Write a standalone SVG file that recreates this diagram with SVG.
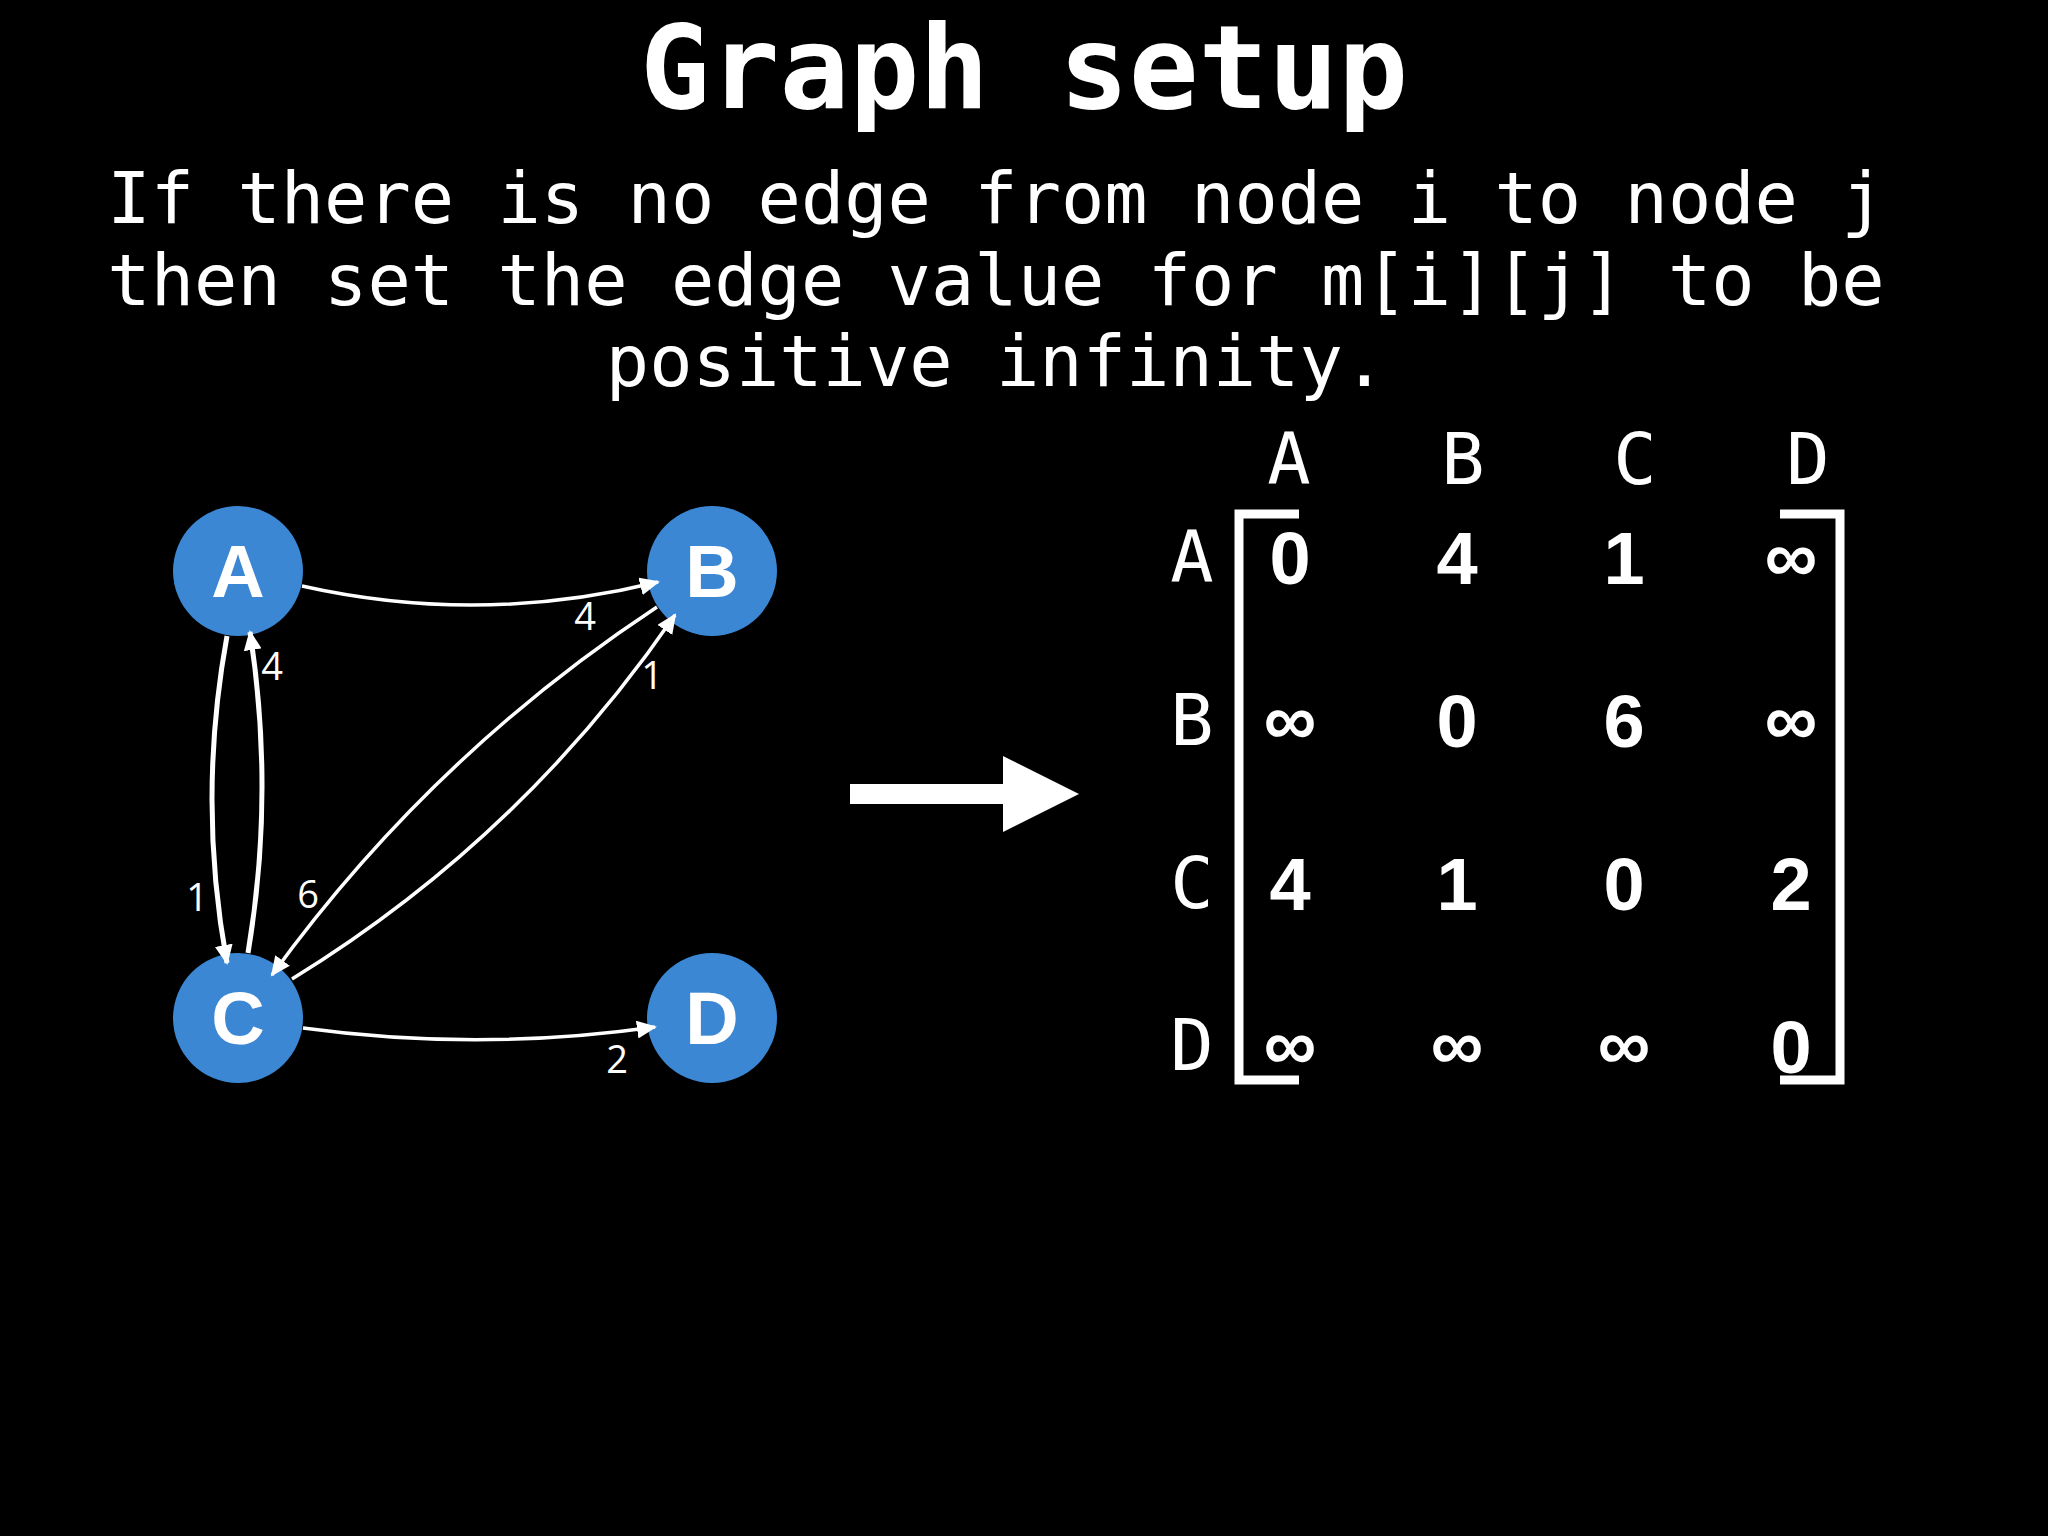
<svg xmlns="http://www.w3.org/2000/svg" width="2048" height="1536" viewBox="0 0 2048 1536">
  <defs>
    <marker id="ah" markerUnits="userSpaceOnUse" markerWidth="20" markerHeight="18" refX="18" refY="9" orient="auto">
      <path d="M0,0 L20,9 L0,18 z" fill="#ffffff"/>
    </marker>
    <style>
      .mono { font-family: "DejaVu Sans Mono", "Liberation Mono", monospace; fill: #ffffff; }
      .node circle { fill: #3b87d4; }
      .node text { font-family: "Liberation Sans", Arial, sans-serif; font-weight: bold; font-size: 74px; fill: #ffffff; text-anchor: middle; }
      .edge { fill: none; stroke: #ffffff; stroke-width: 3.5; marker-end: url(#ah); }
      .edge.thick { stroke-width: 5; }
      .elabel { font-family: "Open Sans", "Liberation Sans", Arial, sans-serif; font-size: 38px; fill: #ffffff; text-anchor: middle; }
      .hdr { font-family: "DejaVu Sans Mono", "Liberation Mono", monospace; font-size: 72px; fill: #ffffff; text-anchor: middle; }
      .val { font-family: "Liberation Sans", Arial, sans-serif; font-weight: bold; font-size: 74px; fill: #ffffff; text-anchor: middle; }
      .bracket { fill: none; stroke: #ffffff; stroke-width: 9; }
    </style>
  </defs>
  <rect width="2048" height="1536" fill="#000000"/>

  <g id="title">
    <text class="mono" x="1024" y="108" font-size="116" font-weight="bold" text-anchor="middle">Graph setup</text>
  </g>
  <g id="description" class="mono" font-size="72" text-anchor="middle">
    <text x="996" y="223">If there is no edge from node i to node j</text>
    <text x="996" y="305">then set the edge value for m[i][j] to be</text>
    <text x="996" y="386">positive infinity.</text>
  </g>

  <g id="node-A" class="node">
    <circle cx="238" cy="571" r="65"/>
    <text x="238" y="597">A</text>
  </g>
  <g id="node-B" class="node">
    <circle cx="712" cy="571" r="65"/>
    <text x="712" y="597">B</text>
  </g>
  <g id="node-C" class="node">
    <circle cx="238" cy="1018" r="65"/>
    <text x="238" y="1044">C</text>
  </g>
  <g id="node-D" class="node">
    <circle cx="712" cy="1018" r="65"/>
    <text x="712" y="1044">D</text>
  </g>

  <g id="connectors">
    <path class="edge" d="M302,586 Q480,626 658,582"/>
    <path class="edge thick" d="M227,636 Q197,800 227,963"/>
    <path class="edge thick" d="M248,953 Q275,793 250,632"/>
    <path class="edge" d="M657,607 Q431,756 272,975"/>
    <path class="edge" d="M292,979 Q522,838 675,615"/>
    <path class="edge" d="M303,1028 Q479,1052 655,1027"/>
  </g>

  <g id="edge-labels">
    <text class="elabel" x="585" y="630">4</text>
    <text class="elabel" x="272" y="680">4</text>
    <text class="elabel" x="197" y="911">1</text>
    <text class="elabel" x="308" y="908">6</text>
    <text class="elabel" x="652" y="689">1</text>
    <text class="elabel" x="617" y="1073">2</text>
  </g>

  <g id="big-arrow">
    <polygon points="850,784 1003,784 1003,756 1079,794 1003,832 1003,804 850,804" fill="#ffffff"/>
  </g>

  <g id="matrix">
    <g id="col-headers">
      <text class="hdr" x="1289" y="484">A</text>
      <text class="hdr" x="1463" y="484">B</text>
      <text class="hdr" x="1635" y="484">C</text>
      <text class="hdr" x="1808" y="484">D</text>
    </g>
    <g id="row-headers">
      <text class="hdr" x="1192" y="582">A</text>
      <text class="hdr" x="1192" y="745">B</text>
      <text class="hdr" x="1192" y="908">C</text>
      <text class="hdr" x="1192" y="1070">D</text>
    </g>
    <path class="bracket" d="M1299,514 L1239,514 L1239,1080 L1299,1080"/>
    <path class="bracket" d="M1780,514 L1840,514 L1840,1080 L1780,1080"/>
    <g id="values">
      <text class="val" x="1290" y="584">0</text>
      <text class="val" x="1457" y="584">4</text>
      <text class="val" x="1624" y="584">1</text>
      <text class="val" x="1791" y="582">∞</text>
      <text class="val" x="1290" y="745">∞</text>
      <text class="val" x="1457" y="747">0</text>
      <text class="val" x="1624" y="747">6</text>
      <text class="val" x="1791" y="745">∞</text>
      <text class="val" x="1290" y="910">4</text>
      <text class="val" x="1457" y="910">1</text>
      <text class="val" x="1624" y="910">0</text>
      <text class="val" x="1791" y="910">2</text>
      <text class="val" x="1290" y="1070">∞</text>
      <text class="val" x="1457" y="1070">∞</text>
      <text class="val" x="1624" y="1070">∞</text>
      <text class="val" x="1791" y="1073">0</text>
    </g>
  </g>
</svg>
